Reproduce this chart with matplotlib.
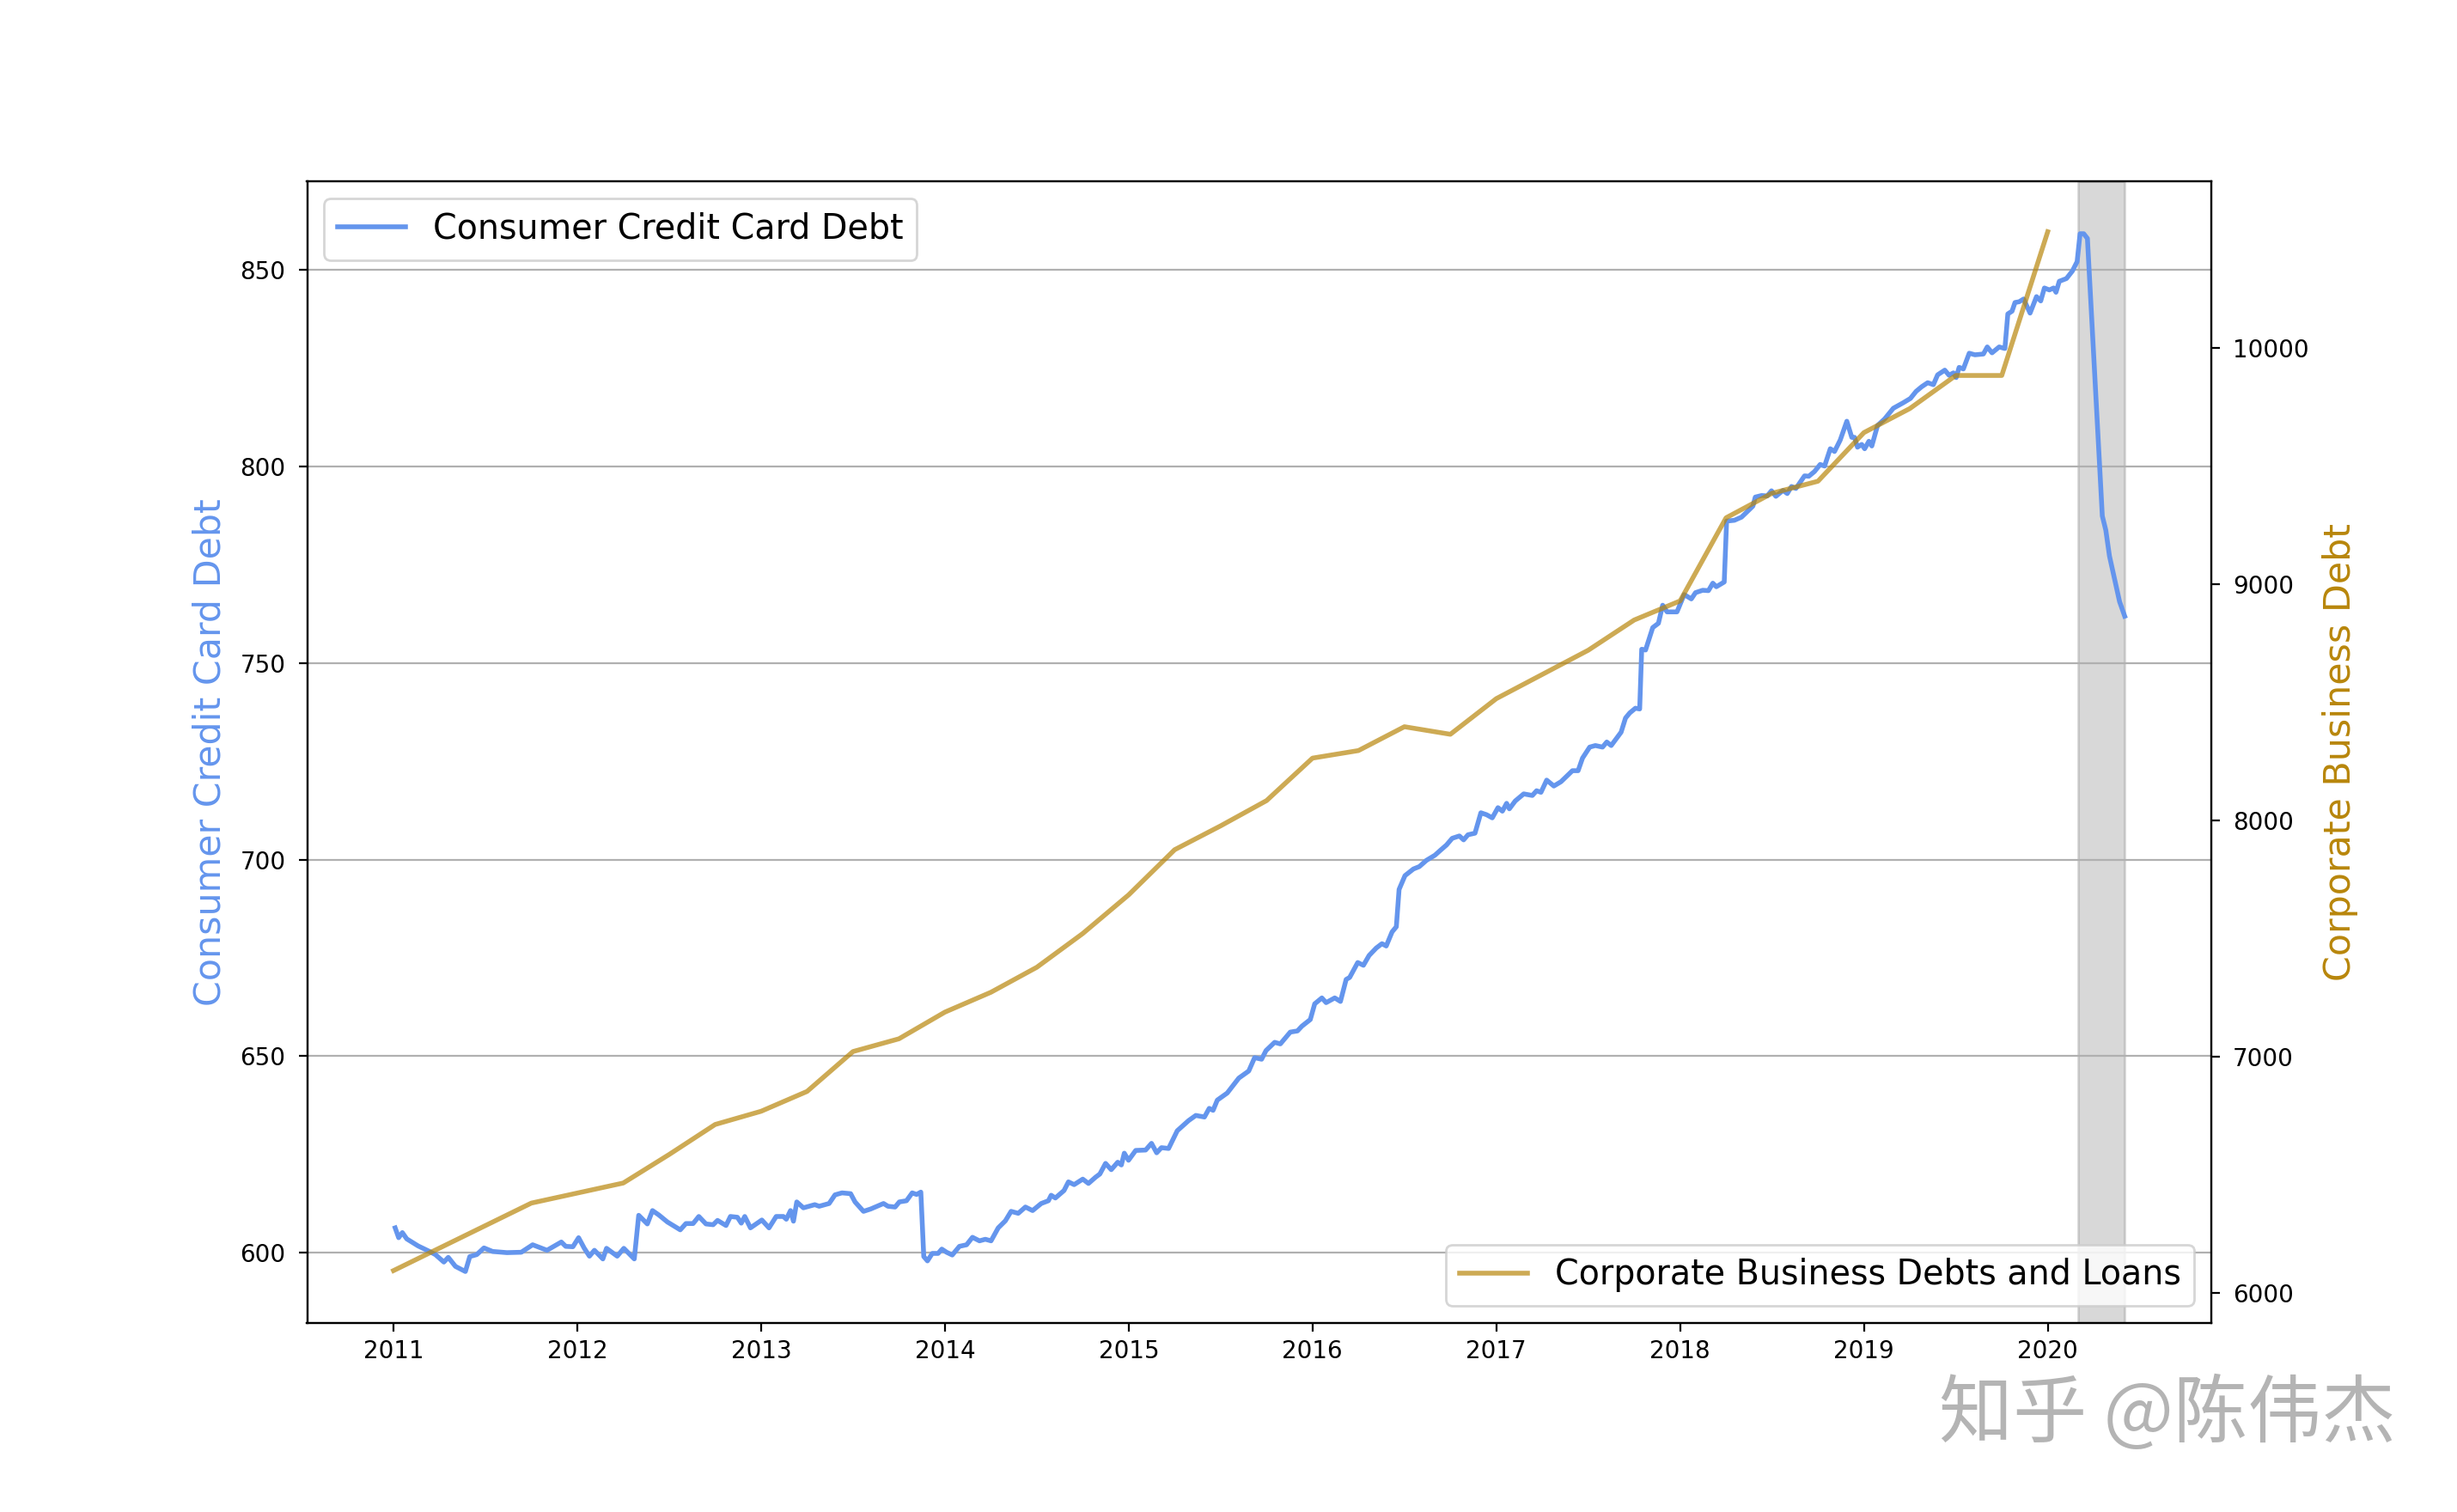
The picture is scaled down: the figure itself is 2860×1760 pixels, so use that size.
import matplotlib
matplotlib.use('Agg')
import matplotlib.pyplot as plt
import numpy as np


# weekly consumer credit card debt (decimal years)
card_year = [
    2011.009, 2011.028, 2011.048, 2011.072, 2011.134, 2011.196, 2011.228, 2011.274, 2011.298, 2011.337,
    2011.391, 2011.415, 2011.453, 2011.492, 2011.539, 2011.617, 2011.695, 2011.757, 2011.835, 2011.913,
    2011.937, 2011.976, 2012.007, 2012.038, 2012.066, 2012.093, 2012.139, 2012.159, 2012.217, 2012.253,
    2012.310, 2012.334, 2012.381, 2012.409, 2012.443, 2012.490, 2012.560, 2012.591, 2012.630, 2012.661,
    2012.700, 2012.739, 2012.763, 2012.809, 2012.833, 2012.871, 2012.892, 2012.911, 2012.942, 2013.004,
    2013.043, 2013.082, 2013.121, 2013.137, 2013.160, 2013.176, 2013.194, 2013.230, 2013.292, 2013.316,
    2013.370, 2013.402, 2013.440, 2013.487, 2013.511, 2013.557, 2013.596, 2013.666, 2013.690, 2013.729,
    2013.752, 2013.791, 2013.822, 2013.846, 2013.869, 2013.885, 2013.905, 2013.931, 2013.963, 2013.983,
    2014.009, 2014.040, 2014.079, 2014.118, 2014.150, 2014.188, 2014.220, 2014.251, 2014.290, 2014.329,
    2014.360, 2014.399, 2014.438, 2014.477, 2014.524, 2014.563, 2014.578, 2014.601, 2014.648, 2014.672,
    2014.703, 2014.750, 2014.781, 2014.820, 2014.843, 2014.874, 2014.905, 2014.940, 2014.960, 2014.976,
    2014.999, 2015.038, 2015.092, 2015.124, 2015.152, 2015.178, 2015.217, 2015.264, 2015.326, 2015.365,
    2015.412, 2015.438, 2015.459, 2015.482, 2015.536, 2015.599, 2015.653, 2015.685, 2015.723, 2015.747,
    2015.794, 2015.825, 2015.879, 2015.918, 2015.942, 2015.988, 2016.012, 2016.051, 2016.074, 2016.121,
    2016.152, 2016.183, 2016.202, 2016.246, 2016.277, 2016.308, 2016.347, 2016.378, 2016.401, 2016.433,
    2016.456, 2016.471, 2016.503, 2016.549, 2016.581, 2016.620, 2016.666, 2016.697, 2016.729, 2016.760,
    2016.799, 2016.822, 2016.846, 2016.884, 2016.916, 2016.947, 2016.978, 2017.009, 2017.033, 2017.056,
    2017.071, 2017.103, 2017.149, 2017.196, 2017.219, 2017.243, 2017.274, 2017.313, 2017.352, 2017.414,
    2017.445, 2017.469, 2017.508, 2017.539, 2017.578, 2017.601, 2017.625, 2017.679, 2017.703, 2017.726,
    2017.757, 2017.780, 2017.791, 2017.812, 2017.851, 2017.882, 2017.905, 2017.929, 2017.983, 2018.022,
    2018.061, 2018.084, 2018.123, 2018.154, 2018.178, 2018.197, 2018.240, 2018.253, 2018.295, 2018.334,
    2018.380, 2018.396, 2018.409, 2018.443, 2018.474, 2018.497, 2018.521, 2018.560, 2018.583, 2018.606,
    2018.630, 2018.677, 2018.700, 2018.731, 2018.762, 2018.786, 2018.817, 2018.840, 2018.871, 2018.907,
    2018.934, 2018.949, 2018.965, 2018.988, 2019.004, 2019.027, 2019.043, 2019.074, 2019.113, 2019.160,
    2019.214, 2019.253, 2019.284, 2019.315, 2019.347, 2019.378, 2019.401, 2019.440, 2019.463, 2019.487,
    2019.502, 2019.518, 2019.541, 2019.573, 2019.604, 2019.650, 2019.671, 2019.697, 2019.736, 2019.767,
    2019.783, 2019.806, 2019.822, 2019.845, 2019.869, 2019.904, 2019.939, 2019.962, 2019.982, 2020.009,
    2020.032, 2020.045, 2020.063, 2020.102, 2020.134, 2020.160, 2020.176, 2020.196, 2020.216, 2020.297,
    2020.316, 2020.336, 2020.391, 2020.419,
]
card_debt = [
    606.3, 603.8, 605.1, 603.5, 601.7, 600.3, 599.5, 597.6, 598.8, 596.5,
    595.2, 599.0, 599.5, 601.2, 600.3, 600.0, 600.1, 602.0, 600.6, 602.7,
    601.6, 601.5, 603.8, 601.1, 599.1, 600.6, 598.4, 601.1, 599.1, 601.1,
    598.4, 609.5, 607.3, 610.7, 609.6, 607.8, 605.8, 607.4, 607.4, 609.2,
    607.3, 607.1, 608.2, 606.9, 609.2, 609.0, 607.5, 609.2, 606.3, 608.3,
    606.3, 609.2, 609.2, 608.5, 610.7, 608.0, 612.9, 611.4, 612.2, 611.8,
    612.5, 614.7, 615.2, 615.0, 612.9, 610.5, 611.1, 612.5, 611.8, 611.6,
    612.9, 613.2, 615.2, 614.8, 615.4, 599.0, 597.9, 599.8, 599.8, 600.9,
    600.1, 599.4, 601.6, 602.0, 603.9, 603.0, 603.4, 603.0, 606.3, 608.1,
    610.5, 610.0, 611.6, 610.7, 612.5, 613.2, 614.6, 613.9, 615.8, 618.0,
    617.3, 618.7, 617.6, 619.2, 620.0, 622.7, 621.1, 623.0, 622.3, 625.3,
    623.5, 626.0, 626.1, 627.8, 625.4, 626.7, 626.5, 631.0, 633.6, 634.9,
    634.5, 636.7, 636.2, 638.8, 640.6, 644.4, 646.2, 649.6, 649.2, 651.4,
    653.5, 653.1, 656.1, 656.4, 657.6, 659.3, 663.3, 664.8, 663.6, 664.8,
    663.9, 669.5, 670.0, 673.8, 673.1, 675.6, 677.5, 678.6, 678.0, 681.6,
    682.9, 692.4, 695.9, 697.6, 698.2, 699.8, 701.1, 702.4, 703.7, 705.4,
    706.0, 705.0, 706.3, 706.7, 711.9, 711.4, 710.6, 713.2, 712.3, 714.3,
    712.9, 714.9, 716.7, 716.3, 717.5, 717.1, 720.2, 718.7, 719.8, 722.6,
    722.6, 725.8, 728.6, 729.0, 728.6, 729.9, 729.0, 732.4, 736.0, 737.3,
    738.5, 738.3, 753.5, 753.3, 759.0, 760.1, 764.7, 763.0, 763.0, 767.4,
    766.3, 767.9, 768.5, 768.4, 770.3, 769.4, 770.6, 786.1, 786.3, 787.1,
    789.2, 789.9, 792.2, 792.6, 792.5, 793.8, 792.4, 793.9, 793.1, 794.9,
    794.4, 797.6, 797.5, 798.7, 800.5, 800.1, 804.5, 803.8, 806.7, 811.5,
    807.4, 807.4, 804.9, 805.6, 804.5, 806.4, 805.2, 810.4, 812.1, 814.8,
    816.2, 817.3, 819.1, 820.3, 821.3, 820.8, 823.3, 824.5, 823.2, 823.8,
    822.6, 825.2, 824.8, 828.8, 828.4, 828.6, 830.4, 828.9, 830.4, 830.0,
    838.8, 839.5, 841.7, 841.9, 842.6, 839.0, 843.2, 842.1, 845.4, 844.9,
    845.4, 844.3, 847.1, 847.8, 849.7, 852.1, 859.2, 859.2, 858.0, 787.4,
    783.8, 777.2, 765.6, 761.9,
]

# quarterly corporate business debts and loans
corp_year = [
    2011.0, 2011.75, 2012.25, 2012.5, 2012.75, 2013.0, 2013.25, 2013.5, 2013.75, 2014.0,
    2014.25, 2014.5, 2014.75, 2015.0, 2015.25, 2015.5, 2015.75, 2016.0, 2016.25, 2016.5,
    2016.75, 2017.0, 2017.5, 2017.75, 2018.0, 2018.25, 2018.5, 2018.75, 2019.0, 2019.25,
    2019.5, 2019.75, 2020.0,
]
corp_debt = [
    6093, 6379, 6464, 6585, 6712, 6768, 6852, 7021, 7075, 7188,
    7272, 7378, 7521, 7685, 7876, 7977, 8084, 8264, 8296, 8397,
    8365, 8516, 8721, 8849, 8930, 9282, 9386, 9437, 9643, 9745,
    9885, 9885, 10494,
]

recession_start = 2020.164
recession_end = 2020.416
years = list(range(2011, 2021))

fig, ax1 = plt.subplots(figsize=(14.3, 8.8), dpi=200)
fig.subplots_adjust(left=0.125, right=0.9, bottom=0.125, top=0.88)

ax1.axvspan(recession_start, recession_end, color='grey', alpha=0.3)
ax1.plot(card_year, card_debt, color='cornflowerblue', lw=2, label='Consumer Credit Card Debt')
ax1.set_ylabel('Consumer Credit Card Debt', color='cornflowerblue', fontsize=15.4, labelpad=5)
ax1.yaxis.grid(True, color='#b0b0b0')
ax1.tick_params(axis='y', pad=5.5)
ax1.set_xticks(years)
ax1.set_xticklabels([str(y) for y in years])
ax1.legend(loc='upper left', fontsize=14.25)

ax2 = ax1.twinx()
ax2.plot(corp_year, corp_debt, color='darkgoldenrod', alpha=0.7, lw=2,
         label='Corporate Business Debts and Loans')
ax2.set_ylabel('Corporate Business Debt', color='darkgoldenrod', fontsize=15.4, labelpad=5.5)
ax2.tick_params(axis='y', pad=5.5)
ax2.legend(loc='lower right', fontsize=14.25)

ax1.set_xlim(2010.53, 2020.89)
ax1.set_ylim(582.1, 872.5)
ax2.set_ylim(5871, 10707)

fig.text(0.789, 0.064, '知乎 @陈伟杰', fontsize=31, color='#b4b4b4', va='center',
         family=['Noto Sans CJK SC', 'DejaVu Sans'])

plt.savefig('out.png')
